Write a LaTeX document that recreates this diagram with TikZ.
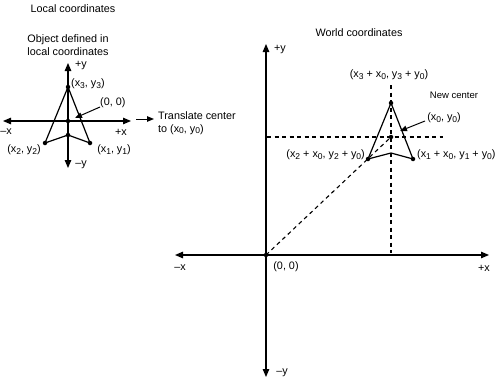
\documentclass[tikz,border=0pt]{standalone}
\usepackage{fontspec}
\setmainfont{Liberation Sans}
\usetikzlibrary{arrows.meta}
\newcommand{\lo}[1]{\raisebox{-0.3ex}{\fontsize{8.5}{9}\selectfont #1}}
\begin{document}
\begin{tikzpicture}[x=1pt,y=-1pt,
  font=\fontsize{10.8}{12.5}\selectfont,
  axis/.style={line width=1.2pt, {Triangle[length=8pt,width=6.5pt]}-{Triangle[length=8pt,width=6.5pt]}},
  objline/.style={line width=1.2pt, line join=round},
  guide/.style={line width=1.1pt, dash pattern=on 4pt off 3.5pt},
  ptr/.style={line width=1pt, -{Triangle[length=7pt,width=5.5pt]}},
  dot/.style={circle, fill=black, inner sep=0pt, minimum size=4.5pt},
  lbl/.style={inner sep=0pt}]
\useasboundingbox (0,0) rectangle (500,380);

% ---------- Local coordinates ----------
\node[lbl] (ltitle) at (73,9) {Local coordinates};
\node[lbl, align=center] (lobj) at (68,45) {Object defined in\\local coordinates};

\coordinate (lxl) at (3,121);
\coordinate (lxr) at (131,121);
\coordinate (lyt) at (68,63);
\coordinate (lyb) at (68,168);
\draw[axis] (lxl) -- (lxr);
\draw[axis] (lyt) -- (lyb);

\node[dot] (l3) at (68,87) {};
\node[dot] (l0) at (68,121) {};
\node[dot] (ln) at (68,135) {};
\node[dot] (l2) at (45,143) {};
\node[dot] (l1) at (90,143) {};
\draw[objline] (l3.center) -- (l1.center) -- (ln.center) -- (l2.center) -- cycle;

\node[lbl] (lpy) at (81,66) {+y};
\node[lbl] (lmy) at (81,165) {–y};
\node[lbl] (lmx) at (6,132) {–x};
\node[lbl] (lpx) at (121,132) {+x};
\node[lbl, anchor=west] (l3t) at (71,84) {(x\lo{3}, y\lo{3})};
\node[lbl, anchor=west] (l0t) at (100,103) {(0, 0)};
\node[lbl] (l2t) at (24,150) {(x\lo{2}, y\lo{2})};
\node[lbl] (l1t) at (114,150) {(x\lo{1}, y\lo{1})};
\coordinate (l0a) at (100,107);
\draw[ptr] (l0a) -- (75,118);

% translate arrow
\coordinate (tra) at (136,119);
\coordinate (trb) at (154,119);
\draw[ptr] (tra) -- (trb);
\node[lbl, align=left, anchor=west] (trt) at (158,123) {Translate center\\to (x\lo{0}, y\lo{0})};

% ---------- World coordinates ----------
\node[lbl] (wtitle) at (359,33) {World coordinates};

\coordinate (wxl) at (175,255);
\coordinate (wxr) at (489,255);
\coordinate (wyt) at (266,44);
\coordinate (wyb) at (266,377);
\draw[axis] (wxl) -- (wxr);
\draw[axis] (wyt) -- (wyb);

\node[lbl] (wpy) at (280,50) {+y};
\node[lbl] (wmy) at (282,373) {–y};
\node[lbl] (wmx) at (180,268) {–x};
\node[lbl] (wpx) at (484,268) {+x};
\node[lbl] (w00) at (286,267) {(0, 0)};

\node[dot] (wo) at (266,255) {};
\node[dot] (w3) at (391,103) {};
\node[dot] (wc) at (391,137) {};
\node[dot] (w2) at (368,159) {};
\node[dot] (w1) at (413,159) {};
\coordinate (wn) at (391,153);

% dashed guides
\coordinate (hgl) at (267,137);
\coordinate (hgr) at (443,137);
\coordinate (vgt) at (391,85);
\coordinate (vgb) at (391,253);
\draw[guide] (hgl) -- (hgr);
\draw[guide] (vgt) -- (vgb);
\draw[guide] (wo.center) -- (wc.center);

\draw[objline] (w3.center) -- (w1.center) -- (wn) -- (w2.center) -- cycle;

\node[lbl] (w3t) at (389,75) {(x\lo{3} + x\lo{0}, y\lo{3} + y\lo{0})};
\node[lbl, font=\fontsize{9.5}{11}\selectfont] (wnc) at (454,95) {New center};
\node[lbl] (wct) at (444,118) {(x\lo{0}, y\lo{0})};
\coordinate (wca) at (425,121);
\draw[ptr] (wca) -- (400,131);
\node[lbl, anchor=east] (w2t) at (365,155) {(x\lo{2} + x\lo{0}, y\lo{2} + y\lo{0})};
\node[lbl, anchor=west] (w1t) at (417,155) {(x\lo{1} + x\lo{0}, y\lo{1} + y\lo{0})};
\end{tikzpicture}
\end{document}
